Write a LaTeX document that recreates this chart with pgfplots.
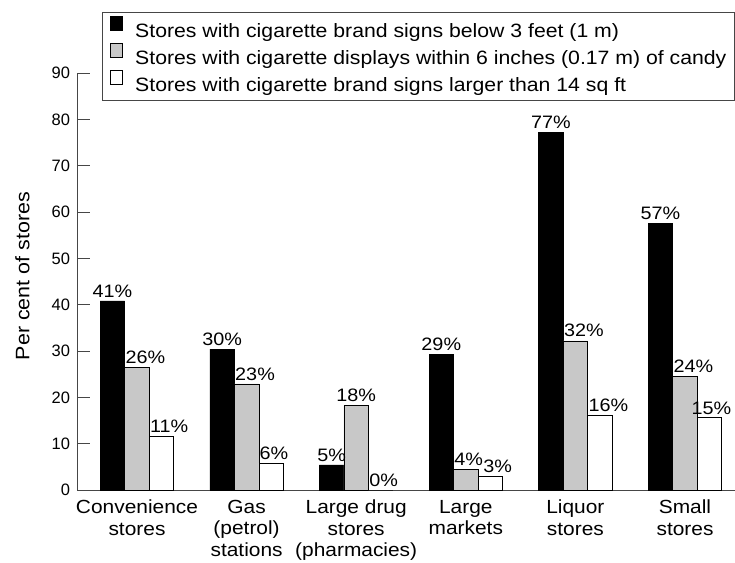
\documentclass[border=0pt]{standalone}
\usepackage{fontspec}
\setmainfont{Liberation Sans}[FakeStretch=1.1]
\newfontfamily\tickfont{Liberation Sans}
\usepackage{pgfplots}
\pgfplotsset{compat=1.18}
\definecolor{bargray}{RGB}{200,200,200}
\definecolor{axgray}{RGB}{70,70,70}
\pgfplotsset{
  sqleg/.style={legend image code/.code={%
    \draw[##1, line width=0.6pt, draw=black] (0pt,0pt) rectangle (12pt,14pt);
    \path[draw=none, fill=none] (0pt,0pt) -- (24.7pt,0pt);}},
  leftlab/.style={nodes near coords style={anchor=south west, xshift=-15pt}},
}
\begin{document}
\begin{tikzpicture}
\begin{axis}[
  scale only axis, width=658pt, height=417pt,
  xmin=-0.5474, xmax=5.4562, ymin=0, ymax=90,
  axis lines=left, axis line style={axgray, line width=0.8pt, -},
  ybar=0pt, bar width=24.5pt,
  ytick={0,10,...,90},
  tick align=inside, major tick length=13pt,
  ytick style={axgray, line width=0.8pt},
  xtick={0,...,5}, xtick style={draw=none},
  xticklabels={{Convenience\\stores},{Gas\\(petrol)\\stations},{Large drug\\stores\\(pharmacies)},{Large\\markets},{Liquor\\stores},{Small\\stores}},
  xticklabel style={align=center, font=\fontsize{19}{21.5}\selectfont, yshift=-6.6pt},
  /pgf/number format/assume math mode=true,
  yticklabel style={font=\tickfont\fontsize{16.5}{16.5}\selectfont, xshift=-3.5pt},
  ylabel={Per cent of stores},
  ylabel style={font=\fontsize{19.5}{19.5}\selectfont, at={(axis description cs:-0.0828,0.513)}, anchor=center},
  nodes near coords, point meta=explicit symbolic,
  nodes near coords style={font=\fontsize{18}{18}\selectfont, black},
  legend style={at={(axis description cs:0.0385,1.147)}, anchor=north west,
    draw=axgray, line width=0.8pt, inner xsep=7.5pt, inner ysep=4pt,
    row sep=0.35pt, column sep=0pt, font=\fontsize{19.3}{19.3}\selectfont,
    nodes={inner sep=0pt, text height=19.3pt, text depth=5pt}},
  legend cell align=left,
]
\addplot[fill=black, draw=black, line width=0.6pt, bar shift=-24.5pt, sqleg]
  coordinates {(0,40.8) [41\%] (1,30.4) [30\%] (2,5.4) [5\%] (3,29.2) [29\%] (4,77.2) [77\%] (5,57.6) [57\%]};
\addplot[fill=bargray, draw=black, line width=0.6pt, bar shift=0pt, sqleg, leftlab]
  coordinates {(0,26.5) [26\%] (1,22.9) [23\%] (2,18.2) [] (3,4.5) [4\%] (4,32.2) [32\%] (5,24.6) [24\%]};
\addplot[fill=white, draw=black, line width=0.6pt, bar shift=24.5pt, sqleg, leftlab]
  coordinates {(0,11.5) [11\%] (1,5.8) [6\%] (2,0) [0\%] (3,3.0) [] (4,16.2) [16\%] (5,15.6) []};
\addplot[draw=none, fill=none, bar shift=0pt, forget plot]
  coordinates {(2,18.2) [18\%]};
\addplot[draw=none, fill=none, bar shift=24.5pt, forget plot, nodes near coords style={anchor=south west, xshift=-10.5pt}]
  coordinates {(3,3.0) [3\%]};
\addplot[draw=none, fill=none, bar shift=24.5pt, forget plot, nodes near coords style={xshift=2pt}]
  coordinates {(5,15.6) [15\%]};
\legend{Stores with cigarette brand signs below 3 feet (1 m),
  Stores with cigarette displays within 6 inches (0.17 m) of candy,
  Stores with cigarette brand signs larger than 14 sq ft}
\end{axis}
\pgfresetboundingbox
\path (-77pt,-72pt) rectangle (658pt,490pt);
\end{tikzpicture}
\end{document}
